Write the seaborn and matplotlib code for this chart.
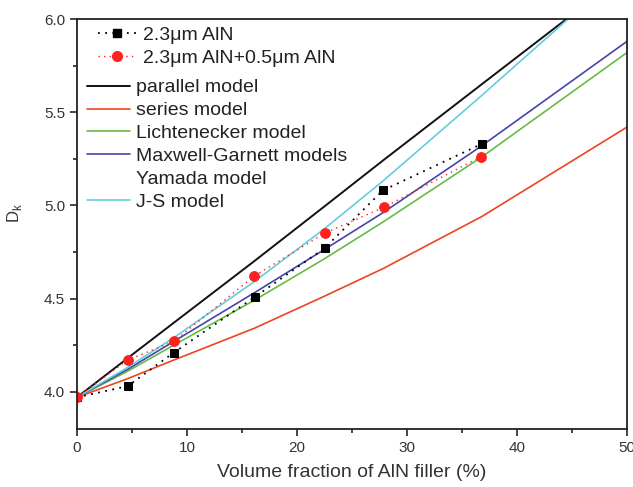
import pandas as pd
import seaborn as sns
import matplotlib.pyplot as plt
from matplotlib.lines import Line2D
from matplotlib.ticker import MultipleLocator

sns.set_style('ticks')
plt.rcParams['font.family'] = ['Liberation Sans', 'DejaVu Sans']

# measured Dk
x_23 = [0, 4.6, 8.8, 16.2, 22.5, 27.8, 36.8]
y_23 = [3.97, 4.03, 4.21, 4.51, 4.77, 5.08, 5.33]
x_mix = [0, 4.6, 8.8, 16.1, 22.5, 27.9, 36.7]
y_mix = [3.97, 4.17, 4.27, 4.62, 4.85, 4.99, 5.26]

# model curves
x_model = [0, 4.6, 8.8, 16.1, 22.4, 27.8, 36.8, 50]
y_parallel = [3.97, 4.18, 4.37, 4.70, 4.99, 5.24, 5.65, 6.25]
y_series = [3.97, 4.07, 4.17, 4.34, 4.51, 4.66, 4.94, 5.42]
y_lichtenecker = [3.97, 4.11, 4.25, 4.49, 4.71, 4.91, 5.26, 5.82]
y_maxwell = [3.97, 4.12, 4.27, 4.53, 4.76, 4.96, 5.32, 5.88]
y_js = [3.97, 4.13, 4.29, 4.59, 4.87, 5.13, 5.59, 6.28]

models = [
    ('parallel model', y_parallel, '#111111', 1.4),
    ('series model', y_series, '#ee4422', 1.2),
    ('Lichtenecker model', y_lichtenecker, '#66bb44', 1.2),
    ('Maxwell-Garnett models', y_maxwell, '#4444aa', 1.2),
    ('J-S model', y_js, '#66ccdd', 1.2),
]

fig = plt.figure(figsize=(6.33, 4.87), dpi=100)
ax = fig.add_axes([77/633, 1-429/487, 550/633, 410/487])

model_handles = []
for name, yv, col, lw in models:
    df = pd.DataFrame({'x': x_model, 'y': yv})
    sns.lineplot(data=df, x='x', y='y', ax=ax, color=col, linewidth=lw, sort=False)
    model_handles.append(Line2D([], [], color=col, lw=lw, label=name))
model_handles.insert(4, Line2D([], [], color='none', label='Yamada model'))

df_a = pd.DataFrame({'x': x_23, 'y': y_23})
df_b = pd.DataFrame({'x': x_mix, 'y': y_mix})
sns.lineplot(data=df_a, x='x', y='y', ax=ax, color='black', marker='s', markersize=6,
             markeredgecolor='black', linestyle=(0, (1, 3)), linewidth=1.3, sort=False)
sns.lineplot(data=df_b, x='x', y='y', ax=ax, color='#ff2020', marker='o', markersize=7,
             markeredgecolor='#ff2020', linestyle=(0, (1, 3)), linewidth=1.0, sort=False)
exp_handles = [
    Line2D([], [], color='black', marker='s', markersize=6, linestyle=(0, (1, 3)), lw=1.3,
           label='2.3\u03bcm AlN'),
    Line2D([], [], color='#ff2020', marker='o', markersize=7, linestyle=(0, (1, 3)), lw=1.0,
           label='2.3\u03bcm AlN+0.5\u03bcm AlN'),
]

ax.set_xlim(0, 50)
ax.set_ylim(3.8, 6.0)
ax.xaxis.set_major_locator(MultipleLocator(10))
ax.xaxis.set_minor_locator(MultipleLocator(5))
ax.set_yticks([4.0, 4.5, 5.0, 5.5, 6.0])
ax.yaxis.set_minor_locator(MultipleLocator(0.25))
ax.tick_params(which='major', direction='out', length=5, width=1.2, labelsize=11,
               labelcolor='#333333', top=False, right=False)
ax.tick_params(which='minor', direction='out', length=3, width=1.2, top=False, right=False)
for s in ax.spines.values():
    s.set_visible(True)
    s.set_linewidth(1.3)
    s.set_color('#222222')

ax.set_xlabel('Volume fraction of AlN filler (%)', fontsize=14, color='#333333')
ax.xaxis.set_label_coords(0.5, -0.085)
ax.set_ylabel(r'D$_\mathregular{k}$', fontsize=12, color='#333333')
ax.yaxis.set_label_coords(-0.096, 0.527)

leg1 = ax.legend(handles=exp_handles, loc='upper left', bbox_to_anchor=(0.038, 0.983),
                 frameon=False, fontsize=14, borderpad=0, borderaxespad=0,
                 handlelength=2.0, handletextpad=0.3, labelspacing=0.3, labelcolor='#222222')
ax.add_artist(leg1)
ax.legend(handles=model_handles, loc='upper left', bbox_to_anchor=(0.018, 0.854),
          frameon=False, fontsize=14, borderpad=0, borderaxespad=0,
          handlelength=2.2, handletextpad=0.35, labelspacing=0.27, labelcolor='#222222')

plt.savefig('out.png', dpi=100)
